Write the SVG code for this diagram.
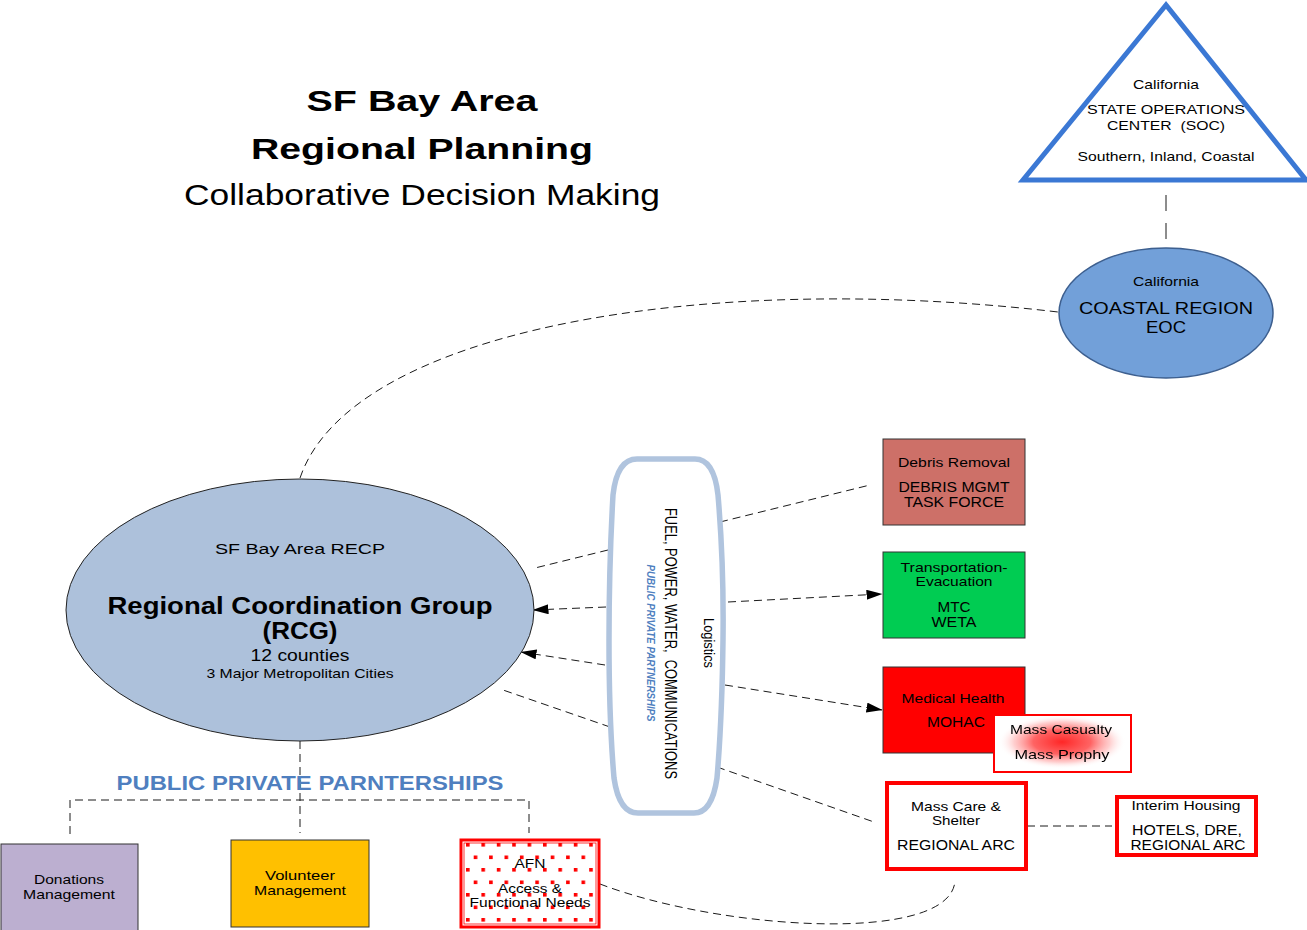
<svg xmlns="http://www.w3.org/2000/svg" width="1307" height="930" viewBox="0 0 1307 930">
<style>
text{font-family:"Liberation Sans",Arial,sans-serif;fill:#000;text-anchor:middle}
.b{font-weight:bold}
.dash{fill:none;stroke:#1a1a1a;stroke-width:1;stroke-dasharray:8 5}
.box{stroke:#333;stroke-width:1}
.redbox{fill:#fff;stroke:#ff0000;stroke-width:4}
</style>
<defs>
<marker id="arr" markerWidth="16" markerHeight="10" refX="15.5" refY="5" orient="auto" markerUnits="userSpaceOnUse"><path d="M0,0 L16,5 L0,10 z" fill="#000"/></marker>
<pattern id="dots" width="15.4" height="25" patternUnits="userSpaceOnUse" x="466" y="843"><rect x="0" y="0" width="3.6" height="3.6" fill="#ff0000"/><rect x="7.7" y="12.5" width="3.6" height="3.6" fill="#ff0000"/></pattern>
<radialGradient id="glow" cx="0.5" cy="0.5" r="0.5"><stop offset="0" stop-color="#ff0000" stop-opacity="1"/><stop offset="0.45" stop-color="#ff1a1a" stop-opacity="0.8"/><stop offset="0.75" stop-color="#ff7070" stop-opacity="0.4"/><stop offset="1" stop-color="#ffffff" stop-opacity="0"/></radialGradient>
<filter id="soft" x="-5%" y="-20%" width="110%" height="140%"><feGaussianBlur stdDeviation="0.5"/></filter>
</defs>

<g id="title">
<text class="b" x="422" y="111" font-size="30" textLength="231" lengthAdjust="spacingAndGlyphs">SF Bay Area</text>
<text class="b" x="422" y="159" font-size="30" textLength="342" lengthAdjust="spacingAndGlyphs">Regional Planning</text>
<text x="422" y="205" font-size="29" textLength="476" lengthAdjust="spacingAndGlyphs">Collaborative Decision Making</text>
</g>

<g id="connectors">
<line class="dash" x1="1166" y1="195" x2="1166" y2="241" style="stroke-dasharray:16 12"/>
<path class="dash" d="M300,478 C350,330 700,270 1058,312"/>
<line class="dash" x1="608" y1="550" x2="535" y2="568"/>
<line class="dash" x1="606" y1="607" x2="533" y2="610" marker-end="url(#arr)"/>
<line class="dash" x1="605" y1="665" x2="521" y2="652" marker-end="url(#arr)"/>
<line class="dash" x1="610" y1="727" x2="503" y2="690"/>
<line class="dash" x1="720" y1="522" x2="870" y2="485"/>
<line class="dash" x1="728" y1="602" x2="882" y2="594" marker-end="url(#arr)"/>
<line class="dash" x1="725" y1="685" x2="882" y2="710" marker-end="url(#arr)"/>
<line class="dash" x1="717" y1="767" x2="874" y2="822"/>
<line class="dash" x1="1027" y1="826" x2="1112" y2="826"/>
<path class="dash" d="M600,884 C720,930 950,945 955,881"/>
<line class="dash" x1="300" y1="741" x2="300" y2="833"/>
<path class="dash" d="M70,834 L70,800 L529,800 L529,833"/>
</g>

<g id="soc">
<polygon points="1166,5 1023,180 1306,180" fill="#fff" stroke="#3b78d4" stroke-width="5" stroke-linejoin="miter"/>
<text x="1166" y="89" font-size="13" textLength="66" lengthAdjust="spacingAndGlyphs">California</text>
<text x="1166" y="114" font-size="13" textLength="158" lengthAdjust="spacingAndGlyphs">STATE OPERATIONS</text>
<text x="1166" y="130" font-size="13" textLength="118" lengthAdjust="spacingAndGlyphs">CENTER&#160; (SOC)</text>
<text x="1166" y="161" font-size="13" textLength="177" lengthAdjust="spacingAndGlyphs">Southern, Inland, Coastal</text>
</g>

<g id="coastal">
<ellipse cx="1166" cy="313" rx="107" ry="65" fill="#72a0d9" stroke="#3d5f8f" stroke-width="1.5"/>
<text x="1166" y="286" font-size="13" textLength="66" lengthAdjust="spacingAndGlyphs">California</text>
<text x="1166" y="314" font-size="16" textLength="174" lengthAdjust="spacingAndGlyphs">COASTAL REGION</text>
<text x="1166" y="333" font-size="16" textLength="40" lengthAdjust="spacingAndGlyphs">EOC</text>
</g>

<g id="rcg">
<ellipse cx="300" cy="610" rx="234" ry="131" fill="#adc1db" stroke="#222" stroke-width="1"/>
<text x="300" y="554" font-size="14" textLength="170" lengthAdjust="spacingAndGlyphs">SF Bay Area RECP</text>
<text class="b" x="300" y="614" font-size="24" textLength="385" lengthAdjust="spacingAndGlyphs">Regional Coordination Group</text>
<text class="b" x="300" y="639" font-size="24" textLength="75" lengthAdjust="spacingAndGlyphs">(RCG)</text>
<text x="300" y="661" font-size="16" textLength="99" lengthAdjust="spacingAndGlyphs">12 counties</text>
<text x="300" y="678" font-size="13" textLength="187" lengthAdjust="spacingAndGlyphs">3 Major Metropolitan Cities</text>
</g>

<g id="logistics">
<path d="M637,459 L695,459 Q714,459 718,495 Q724,565 723,640 Q722,720 717,778 Q712,813 694,813 L638,813 Q619,813 614,778 Q609,720 609,640 Q609,565 613,495 Q617,459 637,459 Z" fill="#fff" stroke="#b0c4de" stroke-width="5.5"/>
<text transform="translate(665,643.5) rotate(90)" font-size="17" textLength="271" lengthAdjust="spacingAndGlyphs">FUEL, POWER, WATER,&#160; COMMUNICATIONS</text>
<text transform="translate(647,643) rotate(90)" font-size="10" font-style="italic" font-weight="bold" style="fill:#4f7fbf" textLength="157" lengthAdjust="spacingAndGlyphs">PUBLIC PRIVATE PARTNERSHIPS</text>
<text transform="translate(704,643) rotate(90)" font-size="14" textLength="50" lengthAdjust="spacingAndGlyphs">Logistics</text>
</g>

<g id="debris">
<rect class="box" x="883" y="439" width="142" height="86" fill="#cd7068"/>
<text x="954" y="467" font-size="13" textLength="112" lengthAdjust="spacingAndGlyphs">Debris Removal</text>
<text x="954" y="492" font-size="14" textLength="111" lengthAdjust="spacingAndGlyphs">DEBRIS MGMT</text>
<text x="954" y="507" font-size="14" textLength="100" lengthAdjust="spacingAndGlyphs">TASK FORCE</text>
</g>

<g id="transport">
<rect class="box" x="883" y="552" width="142" height="86" fill="#00cc52"/>
<text x="954" y="572" font-size="13" textLength="107" lengthAdjust="spacingAndGlyphs">Transportation-</text>
<text x="954" y="586" font-size="13" textLength="77" lengthAdjust="spacingAndGlyphs">Evacuation</text>
<text x="954" y="612" font-size="14" textLength="33" lengthAdjust="spacingAndGlyphs">MTC</text>
<text x="954" y="627" font-size="14" textLength="45" lengthAdjust="spacingAndGlyphs">WETA</text>
</g>

<g id="medical">
<rect class="box" x="883" y="667" width="142" height="86" fill="#ff0000"/>
<text x="953" y="703" font-size="13" textLength="103" lengthAdjust="spacingAndGlyphs">Medical Health</text>
<text x="956" y="727" font-size="14" textLength="58" lengthAdjust="spacingAndGlyphs">MOHAC</text>
</g>

<g id="masscasualty">
<rect x="994" y="715" width="137" height="57" fill="#fff" stroke="#ff0000" stroke-width="2"/>
<ellipse cx="1062" cy="742" rx="64" ry="27" fill="url(#glow)" opacity="0.85"/>
<text x="1061" y="734" font-size="13" textLength="102" lengthAdjust="spacingAndGlyphs" filter="url(#soft)">Mass Casualty</text>
<text x="1062" y="759" font-size="13" textLength="95" lengthAdjust="spacingAndGlyphs" filter="url(#soft)">Mass Prophy</text>
</g>

<g id="masscare">
<rect class="redbox" x="887" y="783" width="139" height="86"/>
<text x="956" y="811" font-size="13" textLength="90" lengthAdjust="spacingAndGlyphs">Mass Care &amp;</text>
<text x="956" y="825" font-size="13" textLength="48" lengthAdjust="spacingAndGlyphs">Shelter</text>
<text x="956" y="850" font-size="14" textLength="118" lengthAdjust="spacingAndGlyphs">REGIONAL ARC</text>
</g>

<g id="interim">
<rect class="redbox" x="1117" y="797" width="139" height="58"/>
<text x="1186" y="810" font-size="13" textLength="109" lengthAdjust="spacingAndGlyphs">Interim Housing</text>
<text x="1187" y="835" font-size="14" textLength="110" lengthAdjust="spacingAndGlyphs">HOTELS, DRE,</text>
<text x="1188" y="850" font-size="14" textLength="115" lengthAdjust="spacingAndGlyphs">REGIONAL ARC</text>
</g>

<g id="ppp-label">
<text class="b" x="310" y="790" font-size="21" style="fill:#4f7fbf" textLength="387" lengthAdjust="spacingAndGlyphs">PUBLIC PRIVATE PARNTERSHIPS</text>
</g>

<g id="donations">
<rect class="box" x="1" y="844" width="137" height="100" fill="#bcafd0"/>
<text x="69" y="884" font-size="13" textLength="70" lengthAdjust="spacingAndGlyphs">Donations</text>
<text x="69" y="899" font-size="13" textLength="92" lengthAdjust="spacingAndGlyphs">Management</text>
</g>

<g id="volunteer">
<rect class="box" x="231" y="840" width="138" height="87" fill="#ffc000"/>
<text x="300" y="880" font-size="13" textLength="70" lengthAdjust="spacingAndGlyphs">Volunteer</text>
<text x="300" y="895" font-size="13" textLength="92" lengthAdjust="spacingAndGlyphs">Management</text>
</g>

<g id="afn">
<rect x="461" y="840" width="138" height="87" fill="#fff" stroke="#ff0000" stroke-width="3"/>
<rect x="464" y="843" width="132" height="81" fill="url(#dots)" stroke="#ff0000" stroke-width="0.8"/>
<text x="530" y="868" font-size="13" textLength="31" lengthAdjust="spacingAndGlyphs">AFN</text>
<text x="530" y="893" font-size="13" textLength="64" lengthAdjust="spacingAndGlyphs">Access &amp;</text>
<text x="530" y="907" font-size="13" textLength="121" lengthAdjust="spacingAndGlyphs">Functional Needs</text>
</g>
</svg>
